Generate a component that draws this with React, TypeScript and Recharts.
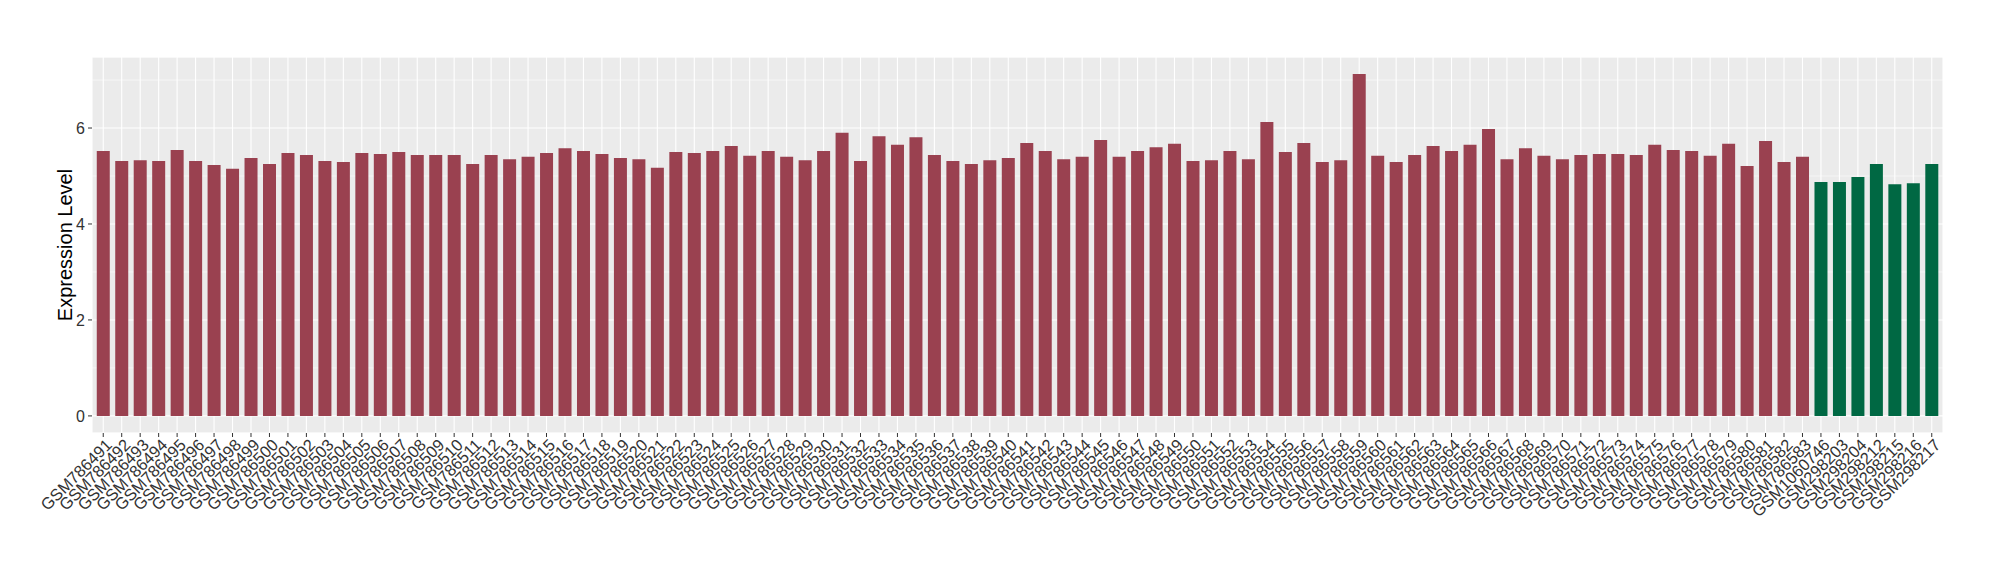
import React from "react";
import { BarChart, Bar, XAxis, YAxis, CartesianGrid, Cell } from "recharts";

const sampleIds: string[] = [
  "GSM786491","GSM786492","GSM786493","GSM786494","GSM786495","GSM786496","GSM786497","GSM786498","GSM786499","GSM786500",
  "GSM786501","GSM786502","GSM786503","GSM786504","GSM786505","GSM786506","GSM786507","GSM786508","GSM786509","GSM786510",
  "GSM786511","GSM786512","GSM786513","GSM786514","GSM786515","GSM786516","GSM786517","GSM786518","GSM786519","GSM786520",
  "GSM786521","GSM786522","GSM786523","GSM786524","GSM786525","GSM786526","GSM786527","GSM786528","GSM786529","GSM786530",
  "GSM786531","GSM786532","GSM786533","GSM786534","GSM786535","GSM786536","GSM786537","GSM786538","GSM786539","GSM786540",
  "GSM786541","GSM786542","GSM786543","GSM786544","GSM786545","GSM786546","GSM786547","GSM786548","GSM786549","GSM786550",
  "GSM786551","GSM786552","GSM786553","GSM786554","GSM786555","GSM786556","GSM786557","GSM786558","GSM786559","GSM786560",
  "GSM786561","GSM786562","GSM786563","GSM786564","GSM786565","GSM786566","GSM786567","GSM786568","GSM786569","GSM786570",
  "GSM786571","GSM786572","GSM786573","GSM786574","GSM786575","GSM786576","GSM786577","GSM786578","GSM786579","GSM786580",
  "GSM786581","GSM786582","GSM786583",
  "GSM1060746","GSM298203","GSM298204","GSM298212","GSM298215","GSM298216","GSM298217",
];

const expressionValues: number[] = [
  5.52,5.31,5.33,5.31,5.54,5.31,5.23,5.15,5.375,5.25,
  5.48,5.44,5.31,5.29,5.48,5.46,5.50,5.44,5.44,5.44,
  5.25,5.44,5.35,5.40,5.48,5.58,5.52,5.46,5.375,5.35,
  5.17,5.50,5.48,5.52,5.625,5.42,5.52,5.40,5.33,5.52,
  5.90,5.31,5.83,5.65,5.81,5.44,5.31,5.25,5.33,5.375,
  5.69,5.52,5.35,5.40,5.75,5.40,5.52,5.60,5.67,5.31,
  5.33,5.52,5.35,6.125,5.50,5.69,5.29,5.33,7.125,5.42,
  5.29,5.44,5.625,5.52,5.65,5.98,5.35,5.58,5.42,5.35,
  5.44,5.46,5.46,5.44,5.65,5.54,5.52,5.42,5.67,5.21,
  5.73,5.29,5.40,
  4.875,4.875,4.98,5.25,4.83,4.85,5.25,
];

const sampleGroups: string[] = sampleIds.map((_, i) => (i < 93 ? "A" : "B"));

const groupColors: Record<string, string> = { A: "#9A4150", B: "#006843" };

const yTicks: number[] = [0, 2, 4, 6];
const yMinorTicks: number[] = [1, 3, 5, 7];
const yDomain: [number, number] = [-0.356, 7.48];

const data = sampleIds.map((id, i) => ({ id, value: expressionValues[i], group: sampleGroups[i] }));

const FONT = "'Liberation Sans', Arial, Helvetica, sans-serif";

const XTick = (props: any) => {
  const { x, y, payload } = props;
  return (
    <g transform={`translate(${x},${y})`}>
      <text
        x={0}
        y={0}
        dx={2}
        dy="0.72em"
        transform="rotate(-45)"
        textAnchor="end"
        fontSize={16.5}
        fontFamily={FONT}
        fill="#333333"
      >
        {payload.value}
      </text>
    </g>
  );
};

export default function App() {
  return (
    <div style={{ position: "absolute", left: 0, top: 0, width: 2000, height: 580, background: "#fff" }}>
      <BarChart
        width={2000}
        height={580}
        data={data}
        margin={{ top: 57, right: 57, bottom: 0, left: 0 }}
        barCategoryGap="15%"
      >
        <CartesianGrid fill="#EBEBEB" stroke="#FFFFFF" strokeWidth={1.1} yAxisId="main" />
        <CartesianGrid
          vertical={false}
          fill="none"
          stroke="#FFFFFF"
          strokeWidth={0.55}
          yAxisId="minor"
        />
        <XAxis
          dataKey="id"
          type="category"
          interval={0}
          height={147}
          padding={{ left: 2, right: 2 }}
          axisLine={false}
          tickLine={{ stroke: "#333333" }}
          tickSize={4}
          tickMargin={2}
          tick={<XTick />}
        />
        <YAxis
          yAxisId="minor"
          type="number"
          domain={yDomain}
          ticks={yMinorTicks}
          allowDataOverflow
          hide
        />
        <YAxis
          yAxisId="main"
          type="number"
          domain={yDomain}
          ticks={yTicks}
          allowDataOverflow
          width={92}
          axisLine={false}
          tickLine={{ stroke: "#333333" }}
          tickSize={4}
          tickMargin={3}
          tick={{ fontSize: 16, fill: "#333333", fontFamily: FONT }}
          label={{
            value: "Expression Level",
            angle: -90,
            position: "center",
            dx: 19,
            style: { fontSize: 20, fill: "#000000", fontFamily: FONT, textAnchor: "middle" },
          }}
        />
        <Bar dataKey="value" yAxisId="main" isAnimationActive={false}>
          {data.map((d, i) => (
            <Cell key={i} fill={groupColors[d.group]} />
          ))}
        </Bar>
      </BarChart>
    </div>
  );
}
